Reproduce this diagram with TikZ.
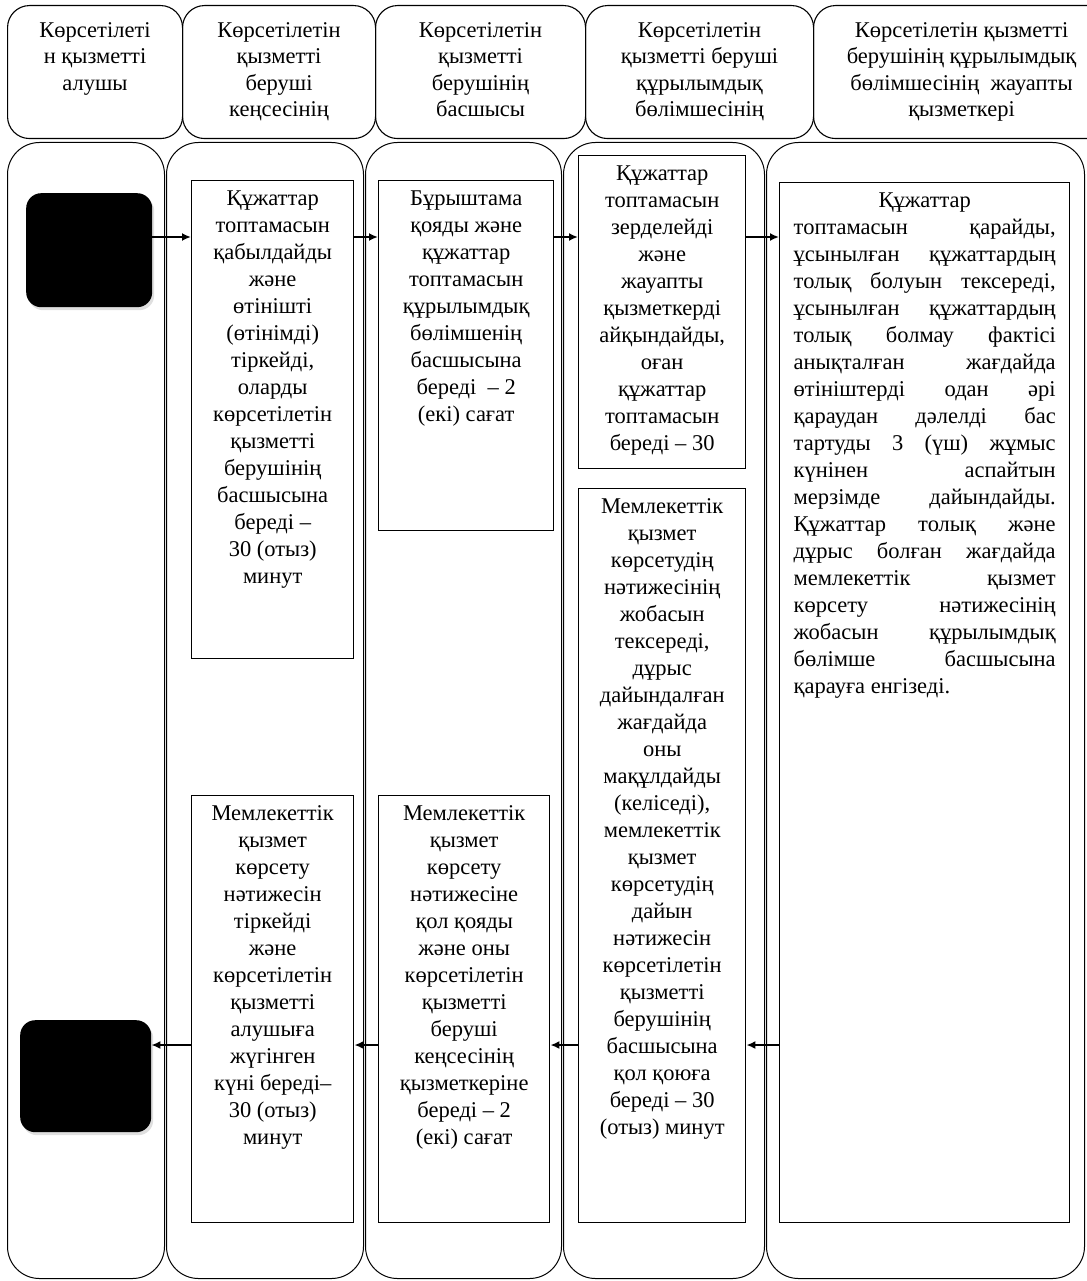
\documentclass[tikz,border=0pt]{standalone}
\usepackage{fontspec}
\setmainfont{Liberation Serif}
\usetikzlibrary{positioning,arrows.meta,shadows}

\newcommand{\celltext}[3]{\parbox[c][#2][t]{#1}{\centering #3}}
\newcommand{\justline}[1]{\makebox[\linewidth][s]{#1}}

\begin{document}
\begin{tikzpicture}[x=1pt, y=-1pt,
    every node/.style={font=\fontsize{22.5}{27}\selectfont},
    head/.style={draw, rounded corners=22pt, line width=1.1pt, anchor=north west, inner xsep=4pt, inner ysep=17pt, font=\fontsize{22.5}{26.5}\selectfont},
    lane/.style={draw, rounded corners=32pt, line width=1pt, anchor=north west, inner sep=0pt, minimum height=1136pt},
    stepbox/.style={draw, line width=1.4pt, anchor=north west, inner xsep=4pt, inner ysep=10pt},
    term/.style={fill=black, rounded corners=15pt, anchor=north west, drop shadow={shadow xshift=2pt, shadow yshift=-3pt, opacity=0.25}},
    flow/.style={-{Latex[length=9pt,width=8pt]}, line width=2.6pt}]
    \useasboundingbox (0,0) rectangle (1086,1281);
    \fill[white] (0,0) rectangle (1086,1281);

    % column heads
    \node[head] (hdr1) at (7,5)   {\celltext{167pt}{99pt}{Көрсетілеті\\н қызметті\\алушы}};
    \node[head] (hdr2) at (182,5) {\celltext{185pt}{99pt}{Көрсетілетін\\қызметті\\беруші\\кеңсесінің}};
    \node[head] (hdr3) at (375,5) {\celltext{202pt}{99pt}{Көрсетілетін\\қызметті\\берушінің\\басшысы}};
    \node[head] (hdr4) at (585,5) {\celltext{220pt}{99pt}{Көрсетілетін\\қызметті беруші\\құрылымдық\\бөлімшесінің}};
    \node[head] (hdr5) at (813,5) {\celltext{288pt}{99pt}{Көрсетілетін қызметті\\берушінің құрылымдық\\бөлімшесінің \ жауапты\\қызметкері}};

    % swim lanes
    \node[lane, minimum width=157pt] (lane1) at (7,142) {};
    \node[lane, minimum width=197pt] (lane2) at (166,142) {};
    \node[lane, minimum width=196pt] (lane3) at (365,142) {};
    \node[lane, minimum width=201pt] (lane4) at (563,142) {};
    \node[lane, minimum width=318pt] (lane5) at (766,142) {};

    % start and end
    \node[term, minimum width=126pt, minimum height=114pt] (start) at (26,193) {};
    \node[term, minimum width=131pt, minimum height=112pt] (finish) at (20,1020) {};

    % steps
    \node[stepbox] (accept) at (191,180) {\celltext{154pt}{458pt}{Құжаттар\\топтамасын\\қабылдайды\\және\\өтінішті\\(өтінімді)\\тіркейді,\\оларды\\көрсетілетін\\қызметті\\берушінің\\басшысына\\береді –\\30 (отыз)\\минут}};
    \node[stepbox] (resolve) at (378,180) {\celltext{167pt}{330pt}{Бұрыштама\\қояды және\\құжаттар\\топтамасын\\құрылымдық\\бөлімшенің\\басшысына\\береді \ – 2\\(екі) сағат}};
    \node[stepbox] (assign) at (578,155) {\celltext{159pt}{293pt}{Құжаттар\\топтамасын\\зерделейді\\және\\жауапты\\қызметкерді\\айқындайды,\\оған\\құжаттар\\топтамасын\\береді – 30}};
    \node[stepbox, inner xsep=14pt] (review) at (779,182) {\celltext{262pt}{1020pt}{Құжаттар\\
        \justline{топтамасын қарайды,}\\
        \justline{ұсынылған құжаттардың}\\
        \justline{толық болуын тексереді,}\\
        \justline{ұсынылған құжаттардың}\\
        \justline{толық болмау фактісі}\\
        \justline{анықталған жағдайда}\\
        \justline{өтініштерді одан әрі}\\
        \justline{қараудан дәлелді бас}\\
        \justline{тартуды 3 (үш) жұмыс}\\
        \justline{күнінен аспайтын}\\
        \justline{мерзімде дайындайды.}\\
        \justline{Құжаттар толық және}\\
        \justline{дұрыс болған жағдайда}\\
        \justline{мемлекеттік қызмет}\\
        \justline{көрсету нәтижесінің}\\
        \justline{жобасын құрылымдық}\\
        \justline{бөлімше басшысына}\\
        \makebox[\linewidth][l]{қарауға енгізеді.}}};
    \node[stepbox] (approve) at (578,488) {\celltext{159pt}{714pt}{Мемлекеттік\\қызмет\\көрсетудің\\нәтижесінің\\жобасын\\тексереді,\\дұрыс\\дайындалған\\жағдайда\\оны\\мақұлдайды\\(келіседі),\\мемлекеттік\\қызмет\\көрсетудің\\дайын\\нәтижесін\\көрсетілетін\\қызметті\\берушінің\\басшысына\\қол қоюға\\береді – 30\\(отыз) минут}};
    \node[stepbox] (sign) at (378,795) {\celltext{163pt}{407pt}{Мемлекеттік\\қызмет\\көрсету\\нәтижесіне\\қол қояды\\және оны\\көрсетілетін\\қызметті\\беруші\\кеңсесінің\\қызметкеріне\\береді – 2\\(екі) сағат}};
    \node[stepbox] (issue) at (191,795) {\celltext{154pt}{407pt}{Мемлекеттік\\қызмет\\көрсету\\нәтижесін\\тіркейді\\және\\көрсетілетін\\қызметті\\алушыға\\жүгінген\\күні береді–\\30 (отыз)\\минут}};

    % connections
    \coordinate (upper) at (0,237);
    \coordinate (lower) at (0,1045);
    \draw[flow] (start.east |- upper) -- (accept.west |- upper);
    \draw[flow] (accept.east |- upper) -- (resolve.west |- upper);
    \draw[flow] (resolve.east |- upper) -- (assign.west |- upper);
    \draw[flow] (assign.east |- upper) -- (review.west |- upper);
    \draw[flow] (review.west |- lower) -- (approve.east |- lower);
    \draw[flow] (approve.west |- lower) -- (sign.east |- lower);
    \draw[flow] (sign.west |- lower) -- (issue.east |- lower);
    \draw[flow] (issue.west |- lower) -- (finish.east |- lower);
\end{tikzpicture}
\end{document}
